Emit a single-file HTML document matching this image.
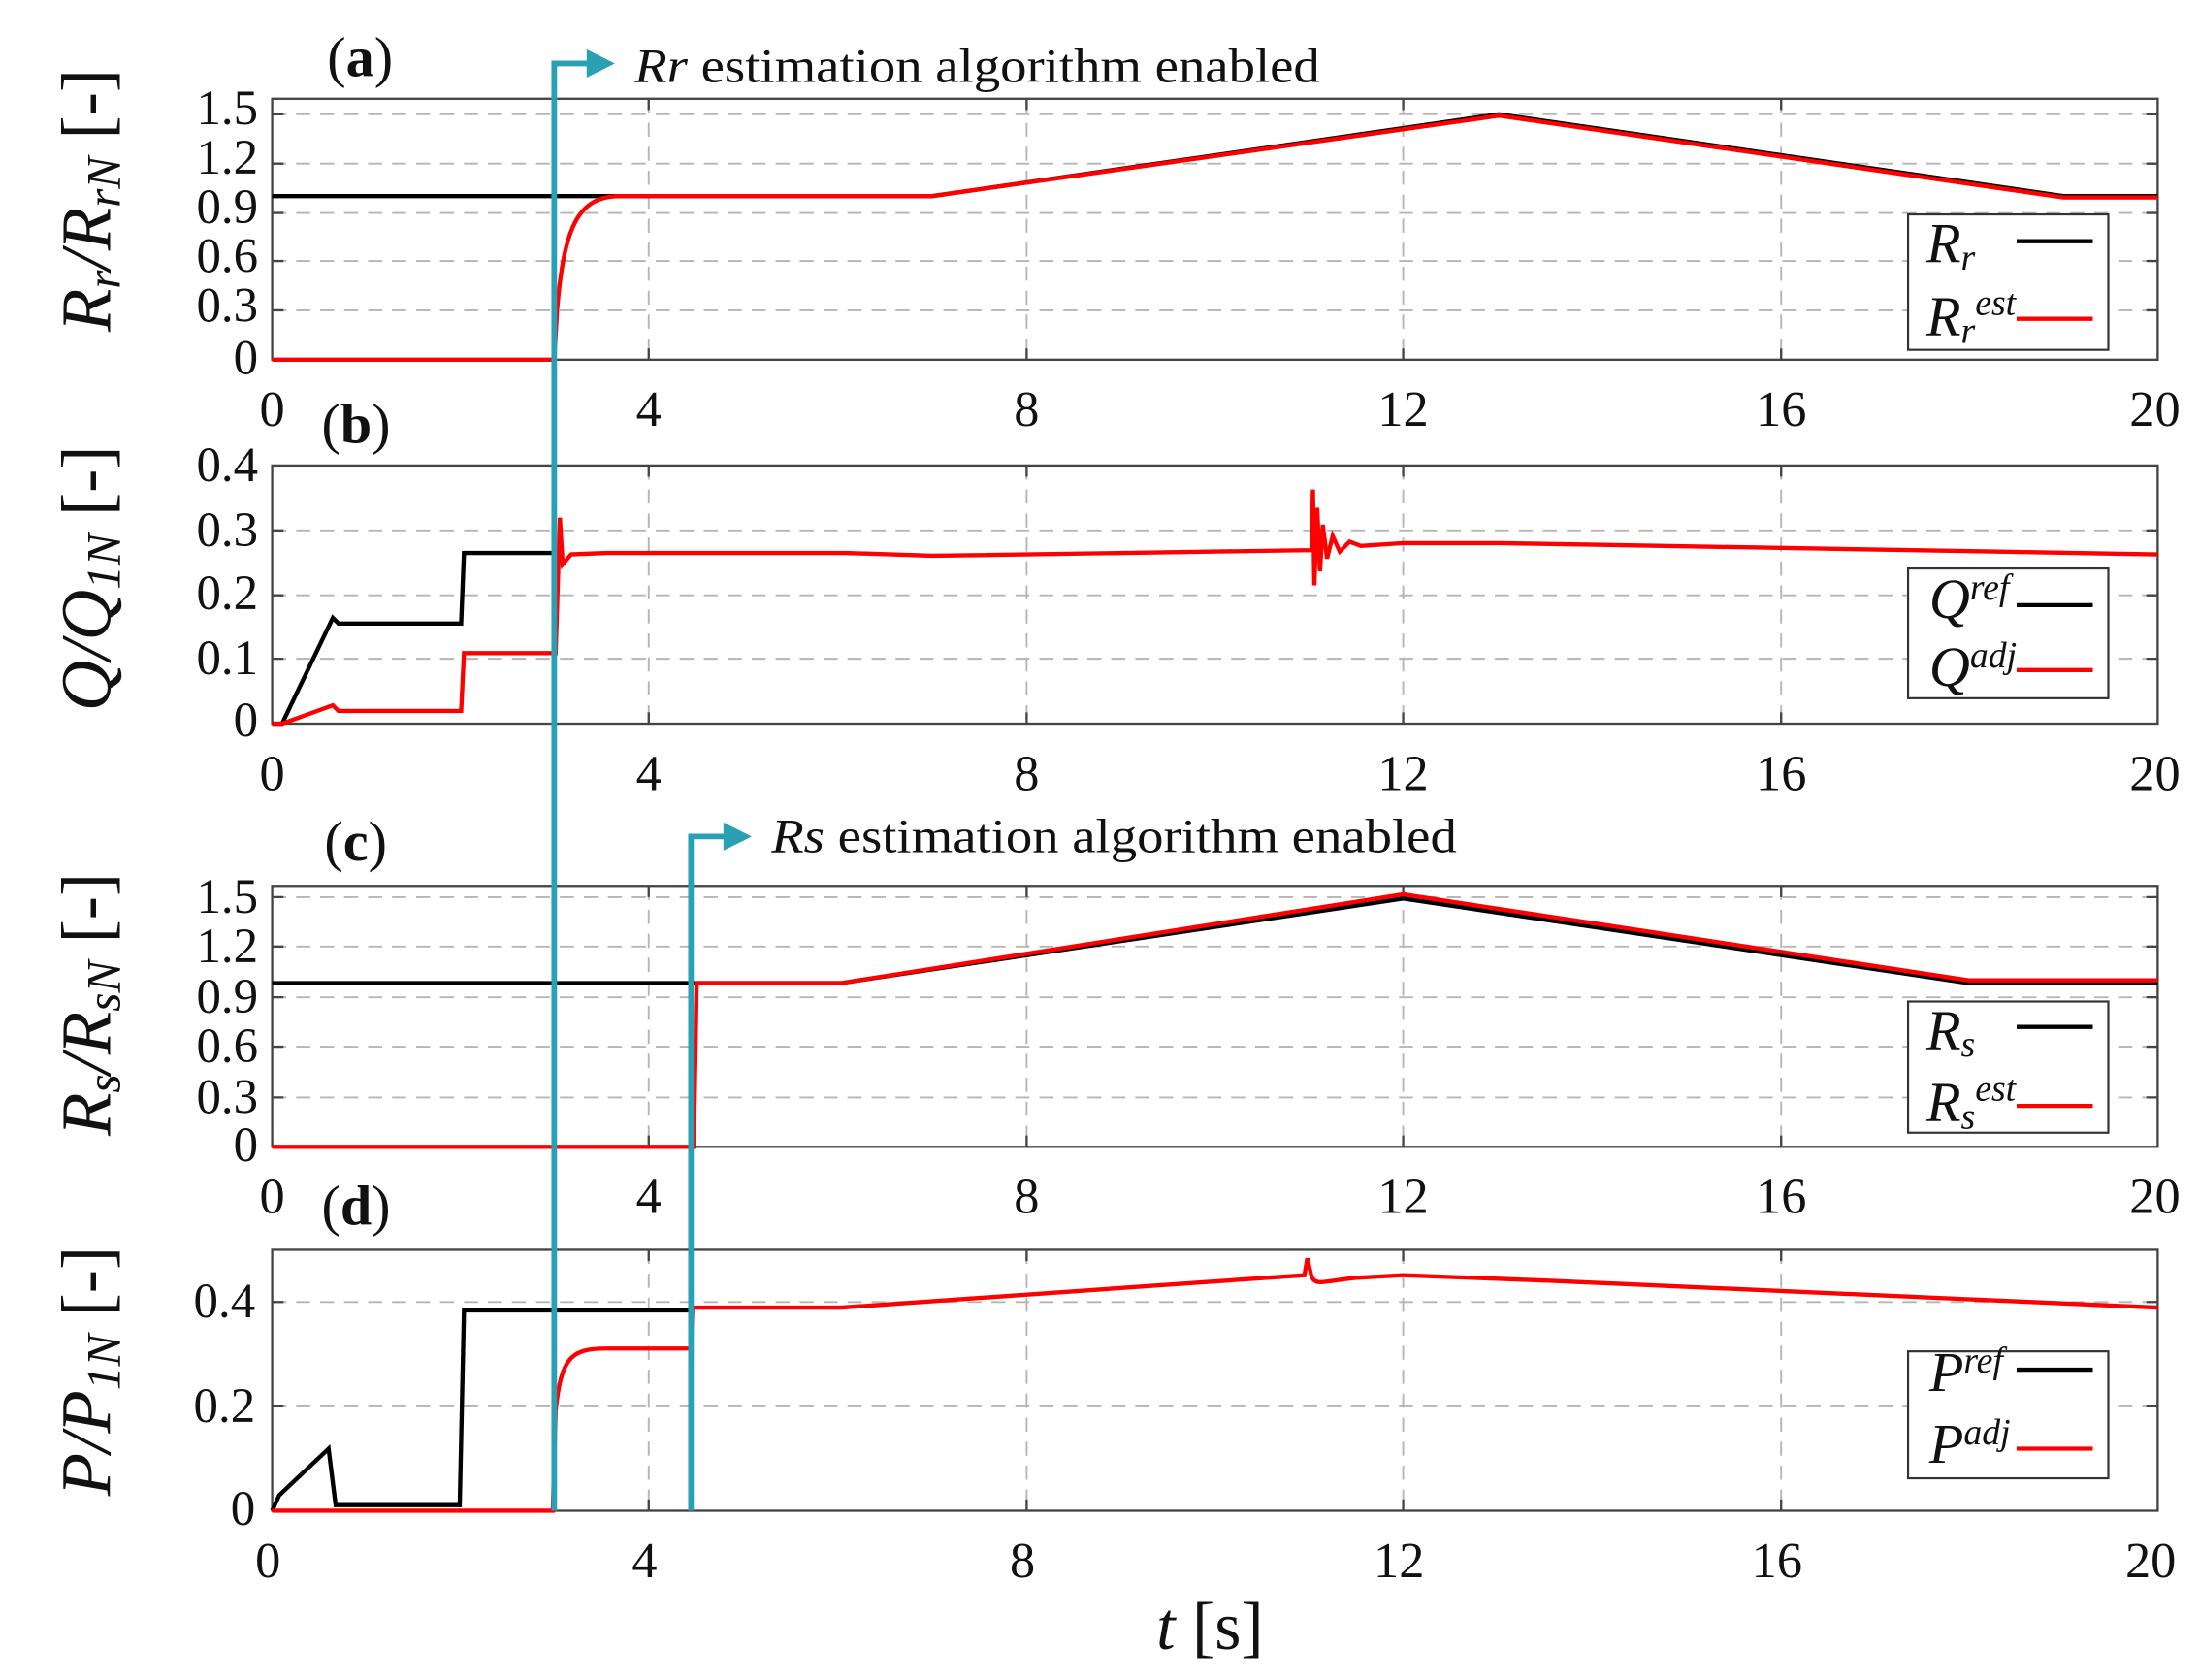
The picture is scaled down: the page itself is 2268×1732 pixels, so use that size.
<!DOCTYPE html>
<html><head><meta charset="utf-8"><style>
html,body{margin:0;padding:0;background:#fff;}
svg{display:block;}
text{font-family:"Liberation Serif",serif;fill:#111;}
</style></head><body>
<svg width="2268" height="1732" viewBox="0 0 1560 1191" preserveAspectRatio="none" xmlns="http://www.w3.org/2000/svg">
<g stroke="#b5b5b5" stroke-width="1.3" stroke-dasharray="10,7" fill="none">
<path d="M460,70V255M728,70V255M995,70V255M1263,70V255"/>
<path d="M193,81H1530M193,116H1530M193,151H1530M193,185H1530M193,220H1530"/>
<path d="M460,330V513M728,330V513M995,330V513M1263,330V513"/>
<path d="M193,376H1530M193,422H1530M193,467H1530"/>
<path d="M460,628V813M728,628V813M995,628V813M1263,628V813"/>
<path d="M193,636H1530M193,671H1530M193,707H1530M193,742H1530M193,778H1530"/>
<path d="M460,886V1071M728,886V1071M995,886V1071M1263,886V1071"/>
<path d="M193,923H1530M193,997H1530"/>
</g>
<g stroke="#444" stroke-width="1.6" fill="none">
<rect x="193" y="70" width="1337" height="185"/>
<rect x="193" y="330" width="1337" height="183"/>
<rect x="193" y="628" width="1337" height="185"/>
<rect x="193" y="886" width="1337" height="185"/>
<path d="M460,255v-8M728,255v-8M995,255v-8M1263,255v-8M460,70v8M728,70v8M995,70v8M1263,70v8"/>
<path d="M460,513v-8M728,513v-8M995,513v-8M1263,513v-8M460,330v8M728,330v8M995,330v8M1263,330v8"/>
<path d="M460,813v-8M728,813v-8M995,813v-8M1263,813v-8M460,628v8M728,628v8M995,628v8M1263,628v8"/>
<path d="M460,1071v-8M728,1071v-8M995,1071v-8M1263,1071v-8M460,886v8M728,886v8M995,886v8M1263,886v8"/>
<path d="M193,81h8M193,116h8M193,151h8M193,185h8M193,220h8M1530,81h-8M1530,116h-8M1530,151h-8M1530,185h-8M1530,220h-8"/>
<path d="M193,376h8M193,422h8M193,467h8M1530,376h-8M1530,422h-8M1530,467h-8"/>
<path d="M193,636h8M193,671h8M193,707h8M193,742h8M193,778h8M1530,636h-8M1530,671h-8M1530,707h-8M1530,742h-8M1530,778h-8"/>
<path d="M193,923h8M193,997h8M1530,923h-8M1530,997h-8"/>
</g>

<path d="M193,139H661L1063,81L1463,139H1530" stroke="#000" stroke-width="3" fill="none"/>
<path d="M193,255H393L395,220C400,160 410,139 440,139H661L1063,82L1463,140H1530" stroke="#f00" stroke-width="3" fill="none"/>
<path d="M193,513L200,513L236,438L240,442H327L329,392H400" stroke="#000" stroke-width="3" fill="none"/>
<path d="M193,513L200,513L236,500L240,504H327L329,463H394L397,367L399,400L405,393L430,392H600L661,394L930,390L931,347L932,415L934,360L936,405L938,372L941,396L945,380L950,391L957,384L965,387L995,385L1063,385L1530,393" stroke="#f00" stroke-width="3" fill="none"/>
<path d="M193,697H596L995,637L1396,697H1530" stroke="#000" stroke-width="3" fill="none"/>
<path d="M193,813H492L494,697H596L995,634L1396,695H1530" stroke="#f00" stroke-width="3" fill="none"/>
<path d="M193,1071L198,1060L233,1027L238,1067H326L329,929H492" stroke="#000" stroke-width="3" fill="none"/>
<path d="M193,1071H392L394,1000C398,962 405,956 430,956H490L491,927H596L925,904L927,892L930,905C933,912 940,908 960,906L995,904L1100,908L1530,927" stroke="#f00" stroke-width="3" fill="none"/>

<path d="M393,1071V45H428M490,1071V593H525" stroke="#2aa0b4" stroke-width="4" fill="none"/>
<path d="M416,35L436,45L416,55Z M513,583L533,593L513,603Z" fill="#2aa0b4"/>
<text x="450" y="58" font-size="34" textLength="486" lengthAdjust="spacingAndGlyphs"><tspan font-style="italic">Rr</tspan> estimation algorithm enabled</text>
<text x="547" y="604" font-size="34" textLength="486" lengthAdjust="spacingAndGlyphs"><tspan font-style="italic">Rs</tspan> estimation algorithm enabled</text>

<text x="232" y="54" font-size="40">(<tspan font-weight="bold">a</tspan>)</text>
<text x="228" y="314" font-size="40">(<tspan font-weight="bold">b</tspan>)</text>
<text x="230" y="610" font-size="40">(<tspan font-weight="bold">c</tspan>)</text>
<text x="228" y="868" font-size="40">(<tspan font-weight="bold">d</tspan>)</text>

<g font-size="35" text-anchor="end">
<text x="183" y="88">1.5</text><text x="183" y="123">1.2</text><text x="183" y="158">0.9</text><text x="183" y="193">0.6</text><text x="183" y="228">0.3</text><text x="183" y="265">0</text>
<text x="183" y="341">0.4</text><text x="183" y="387">0.3</text><text x="183" y="432">0.2</text><text x="183" y="478">0.1</text><text x="183" y="522">0</text>
<text x="183" y="647">1.5</text><text x="183" y="682">1.2</text><text x="183" y="718">0.9</text><text x="183" y="753">0.6</text><text x="183" y="789">0.3</text><text x="183" y="823">0</text>
<text x="181" y="934">0.4</text><text x="181" y="1008">0.2</text><text x="181" y="1081">0</text>
</g>
<g font-size="36" text-anchor="middle">
<text x="193" y="302">0</text><text x="460" y="302">4</text><text x="728" y="302">8</text><text x="995" y="302">12</text><text x="1263" y="302">16</text><text x="1528" y="302">20</text>
<text x="193" y="560">0</text><text x="460" y="560">4</text><text x="728" y="560">8</text><text x="995" y="560">12</text><text x="1263" y="560">16</text><text x="1528" y="560">20</text>
<text x="193" y="860">0</text><text x="460" y="860">4</text><text x="728" y="860">8</text><text x="995" y="860">12</text><text x="1263" y="860">16</text><text x="1528" y="860">20</text>
<text x="190" y="1118">0</text><text x="457" y="1118">4</text><text x="725" y="1118">8</text><text x="992" y="1118">12</text><text x="1260" y="1118">16</text><text x="1525" y="1118">20</text>
</g>
<text x="858" y="1169" font-size="48" text-anchor="middle"><tspan font-style="italic">t</tspan> [s]</text>

<g font-size="50" text-anchor="middle">
<text transform="translate(78,142) rotate(-90)"><tspan font-style="italic">R<tspan font-size="34" dy="7">r</tspan><tspan dy="-7">/R</tspan><tspan font-size="34" dy="7">rN</tspan></tspan><tspan dy="-7"> [-]</tspan></text>
<text transform="translate(78,410) rotate(-90)"><tspan font-style="italic">Q/Q<tspan font-size="34" dy="7">1N</tspan></tspan><tspan dy="-7"> [-]</tspan></text>
<text transform="translate(78,712) rotate(-90)"><tspan font-style="italic">R<tspan font-size="34" dy="7">s</tspan><tspan dy="-7">/R</tspan><tspan font-size="34" dy="7">sN</tspan></tspan><tspan dy="-7"> [-]</tspan></text>
<text transform="translate(78,972) rotate(-90)"><tspan font-style="italic">P/P<tspan font-size="34" dy="7">1N</tspan></tspan><tspan dy="-7"> [-]</tspan></text>
</g>

<g stroke="#333" stroke-width="1.5" fill="#fff">
<rect x="1353" y="152" width="142" height="96"/>
<rect x="1353" y="403" width="142" height="92"/>
<rect x="1353" y="710" width="142" height="93"/>
<rect x="1353" y="958" width="142" height="90"/>
</g>
<g stroke-width="3">
<path d="M1430,171H1484M1430,429H1484M1430,728H1484M1430,971H1484" stroke="#000"/>
<path d="M1430,226H1484M1430,475H1484M1430,784H1484M1430,1027H1484" stroke="#f00"/>
</g>
<g font-size="40" font-style="italic">
<text x="1366" y="186">R<tspan font-size="26" dy="5">r</tspan></text>
<text x="1366" y="238">R<tspan font-size="26" dy="5">r</tspan><tspan font-size="26" dy="-20">est</tspan></text>
<text x="1368" y="438">Q<tspan font-size="26" dy="-13">ref</tspan></text>
<text x="1368" y="486">Q<tspan font-size="26" dy="-13">adj</tspan></text>
<text x="1366" y="744">R<tspan font-size="26" dy="5">s</tspan></text>
<text x="1366" y="795">R<tspan font-size="26" dy="5">s</tspan><tspan font-size="26" dy="-20">est</tspan></text>
<text x="1368" y="986">P<tspan font-size="26" dy="-13">ref</tspan></text>
<text x="1368" y="1037">P<tspan font-size="26" dy="-13">adj</tspan></text>
</g>
</svg>
</body></html>
